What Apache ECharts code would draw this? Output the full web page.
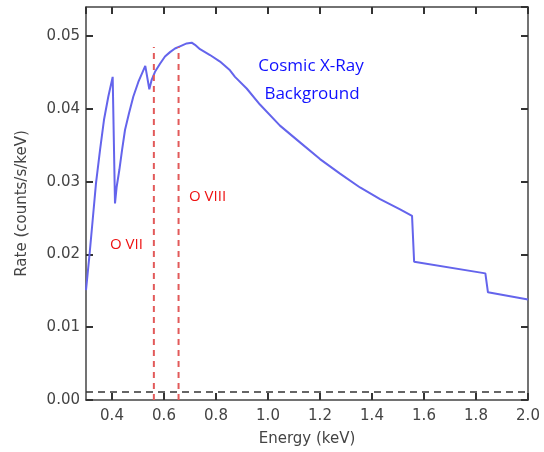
<!DOCTYPE html>
<html>
<head>
<meta charset="utf-8">
<script src="https://cdn.jsdelivr.net/npm/echarts@6/dist/echarts.min.js"></script>
<style>
  html, body { margin: 0; padding: 0; background: #fff; }
  #main { width: 544px; height: 452px; }
</style>
</head>
<body>
<div id="main"></div>
<script>
// spectrum (keV, counts/s/keV)
var energy = [0.300, 0.3128, 0.3256, 0.3385, 0.3538, 0.3692, 0.3859, 0.4026,
  0.4115, 0.418, 0.4282, 0.4385, 0.450, 0.4654, 0.4821, 0.5013, 0.5205, 0.528,
  0.5435, 0.5526, 0.5654, 0.5846, 0.6038, 0.6231, 0.6423, 0.6615, 0.6872, 0.7064,
  0.7192, 0.7385, 0.777, 0.8154, 0.8538, 0.873, 0.918, 0.969, 1.046,
  1.123, 1.200, 1.277, 1.354, 1.431, 1.508, 1.554, 1.562, 1.836, 1.846, 2.000];
var rate = [0.0151, 0.0197, 0.0247, 0.0298, 0.0343, 0.0385, 0.0417, 0.0444,
  0.0270, 0.0293, 0.0316, 0.0343, 0.0371, 0.0394, 0.0417, 0.0437, 0.0453, 0.0459,
  0.0427, 0.0440, 0.0451, 0.0462, 0.0472, 0.0478, 0.0483, 0.0486, 0.0490, 0.0491,
  0.0488, 0.0482, 0.0474, 0.0465, 0.0453, 0.0444, 0.0428, 0.0406, 0.0377,
  0.0354, 0.0331, 0.0311, 0.0292, 0.0276, 0.0262, 0.0253, 0.0190, 0.0174, 0.0148, 0.0138];

// oxygen lines (red dashed) and the flat background level (black dashed)
var lineEnergy = [0.561, 0.656];
var lineTop = 0.0485;
var baseLevel = 0.0011;

var xMin = 0.3, xMax = 2.0;
var yMin = 0, yMax = 0.054;

var curve = [];
for (var i = 0; i < energy.length; i++) {
  curve.push([energy[i], rate[i]]);
}

var frameColor = '#444';
var tickFont = { color: '#444', fontSize: 15, fontFamily: 'DejaVu Sans' };

function xAx(pos, show) {
  return {
    type: 'value', position: pos, min: xMin, max: xMax, splitNumber: 8,
    name: show ? 'Energy (keV)' : '', nameLocation: 'middle', nameGap: 32,
    nameTextStyle: { color: '#444', fontSize: 15, fontFamily: 'DejaVu Sans' },
    axisLine: { show: true, onZero: false, lineStyle: { color: frameColor, width: 1.5 } },
    axisTick: { show: true, inside: true, length: 7, lineStyle: { color: '#333', width: 2 } },
    axisLabel: Object.assign({ show: show, margin: 9, showMinLabel: false,
      formatter: function (v) { return v.toFixed(1); } }, tickFont),
    splitLine: { show: false }
  };
}
function yAx(pos, show) {
  return {
    type: 'value', position: pos, min: yMin, max: yMax, interval: 0.01,
    name: show ? 'Rate (counts/s/keV)' : '', nameLocation: 'middle', nameGap: 56,
    nameTextStyle: { color: '#444', fontSize: 15, fontFamily: 'DejaVu Sans' },
    axisLine: { show: true, onZero: false, lineStyle: { color: frameColor, width: 1.5 } },
    axisTick: { show: true, inside: true, length: 7, lineStyle: { color: '#333', width: 2 } },
    axisLabel: Object.assign({ show: show, margin: 6, showMaxLabel: false,
      formatter: function (v) { return v.toFixed(2); } }, tickFont),
    splitLine: { show: false }
  };
}

var series = [{
  type: 'line', data: curve, showSymbol: false, smooth: false,
  lineStyle: { color: '#6464ec', width: 2 }, z: 3
}, {
  type: 'line', data: [[xMin, baseLevel], [xMax, baseLevel]], showSymbol: false,
  lineStyle: { color: '#333', width: 1.5, type: [7, 5] }
}];
lineEnergy.forEach(function (e) {
  series.push({
    type: 'line', data: [[e, 0], [e, lineTop]], showSymbol: false,
    lineStyle: { color: '#e25a5a', width: 2, type: [6, 5] }
  });
});

var chart = echarts.init(document.getElementById('main'));
chart.setOption({
  backgroundColor: '#fff',
  animation: false,
  grid: { left: 86, right: 16, top: 7, bottom: 52 },
  xAxis: [xAx('bottom', true), xAx('top', false)],
  yAxis: [yAx('left', true), yAx('right', false)],
  series: series,
  graphic: [
    { type: 'text', x: 311, y: 66, style: { text: 'Cosmic X-Ray', fill: '#1010ff',
      font: '17px "Open Sans"', textAlign: 'center', textVerticalAlign: 'middle' } },
    { type: 'text', x: 312, y: 94, style: { text: 'Background', fill: '#1010ff',
      font: '17px "Open Sans"', textAlign: 'center', textVerticalAlign: 'middle' } },
    { type: 'text', x: 189, y: 197, style: { text: 'O VIII', fill: '#ee1111',
      font: '15px "Open Sans"', textVerticalAlign: 'middle' } },
    { type: 'text', x: 110, y: 245, style: { text: 'O VII', fill: '#ee1111',
      font: '15px "Open Sans"', textVerticalAlign: 'middle' } }
  ]
});
</script>
</body>
</html>
